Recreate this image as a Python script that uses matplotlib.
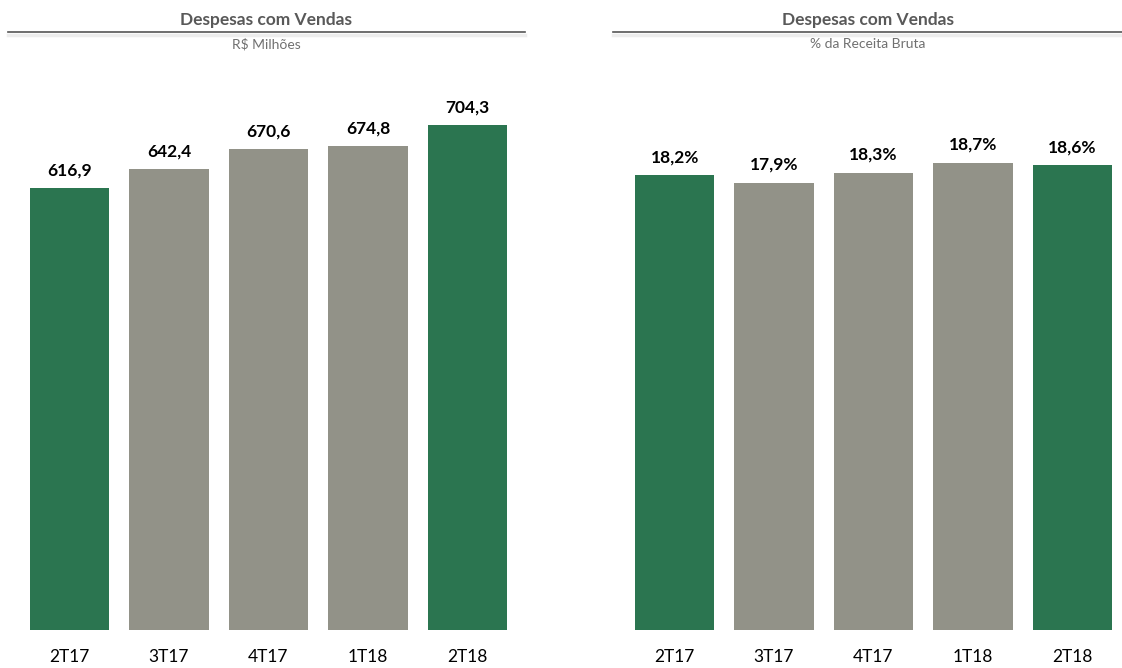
import matplotlib
matplotlib.use("Agg")
import matplotlib.pyplot as plt
from matplotlib.lines import Line2D

plt.rcParams["font.family"] = ["Lato", "DejaVu Sans"]

QUARTERS = ["2T17", "3T17", "4T17", "1T18", "2T18"]
VALUES_BRL = [616.9, 642.4, 670.6, 674.8, 704.3]
VALUES_PCT = [18.2, 17.9, 18.3, 18.7, 18.6]
LABELS_BRL = ["616,9", "642,4", "670,6", "674,8", "704,3"]
LABELS_PCT = ["18,2%", "17,9%", "18,3%", "18,7%", "18,6%"]
HIGHLIGHT = [True, False, False, False, True]

GREEN = "#2b7550"
GREY = "#929288"
TITLE_C = "#595959"

W, H = 1122, 668
fig = plt.figure(figsize=(W / 100, H / 100), dpi=100)


def px_axes(x0, x1, y_top, y_bot):
    return fig.add_axes([x0 / W, 1 - y_bot / H, (x1 - x0) / W, (y_bot - y_top) / H])


def panel(ax, values, labels, xlim, ymax):
    colors = [GREEN if h else GREY for h in HIGHLIGHT]
    x = range(len(values))
    ax.bar(x, values, width=0.8, color=colors)
    for xi, v, lab in zip(x, values, labels):
        ax.annotate(lab, (xi, v), xytext=(0, 7), textcoords="offset points",
                    ha="center", va="bottom", fontsize=12.5, fontweight="bold",
                    color="black")
    ax.set_xlim(*xlim)
    ax.set_ylim(0, ymax)
    ax.set_xticks(list(x))
    ax.set_xticklabels(QUARTERS, fontsize=12.5, color="black")
    ax.tick_params(axis="x", length=0, pad=14)
    ax.set_yticks([])
    for s in ax.spines.values():
        s.set_visible(False)


ax1 = px_axes(10, 525, 40, 630)
panel(ax1, VALUES_BRL, LABELS_BRL, (-0.598, 4.578), 823)
ax2 = px_axes(613, 1122, 40, 630)
panel(ax2, VALUES_PCT, LABELS_PCT, (-0.62, 4.50), 23.6)

# panel headers: title, rule with soft shadow, subtitle
for (x0, x1), sub in (((8, 525), "R$ Milhões"), ((613, 1122), "% da Receita Bruta")):
    cx = (x0 + x1) / 2 / W
    fig.text(cx, 1 - 20 / H, "Despesas com Vendas", ha="center", va="center",
             fontsize=12.5, fontweight="bold", color=TITLE_C)
    fig.add_artist(Line2D([x0 / W, x1 / W], [1 - 34.5 / H, 1 - 34.5 / H],
                          color="#ededed", lw=2.5))
    fig.add_artist(Line2D([x0 / W, x1 / W], [1 - 32 / H, 1 - 32 / H],
                          color="#555555", lw=1.2))
    fig.text(cx, 1 - 44 / H, sub, ha="center", va="center",
             fontsize=10, color="#707070")

fig.savefig("out.png", dpi=100)
